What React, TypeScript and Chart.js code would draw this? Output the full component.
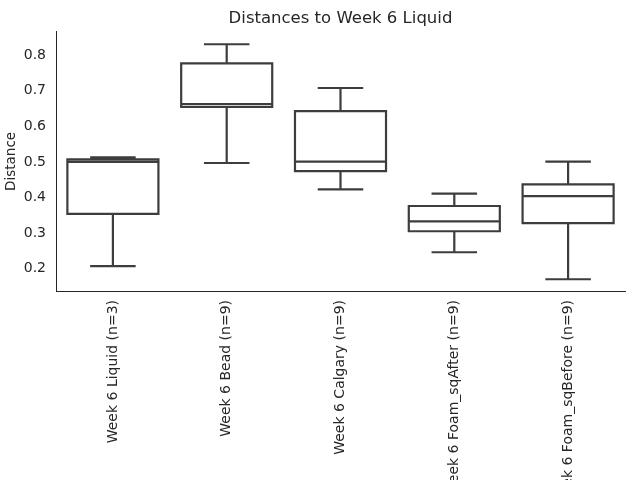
import React, { useEffect, useRef } from "react";
import { Chart, registerables } from "chart.js";

Chart.register(...registerables);

const categories = [
  "Week 6 Liquid (n=3)",
  "Week 6 Bead (n=9)",
  "Week 6 Calgary (n=9)",
  "Week 6 Foam_sqAfter (n=9)",
  "Week 6 Foam_sqBefore (n=9)",
];
const whiskerLow = [0.207, 0.497, 0.423, 0.246, 0.170];
const q1 = [0.354, 0.655, 0.474, 0.305, 0.328];
const median = [0.5, 0.663, 0.501, 0.333, 0.404];
const q3 = [0.507, 0.777, 0.643, 0.376, 0.437];
const whiskerHigh = [0.513, 0.831, 0.708, 0.411, 0.501];
const yTicks = [0.2, 0.3, 0.4, 0.5, 0.6, 0.7, 0.8];

const LINE = "#3d3d3d";
const TEXT = "#262626";
const FONT = "'DejaVu Sans', sans-serif";

const boxPlugin = {
  id: "boxWhiskers",
  afterDatasetsDraw(chart: any) {
    const ctx = chart.ctx;
    const x = chart.scales.x;
    const y = chart.scales.y;
    const meta = chart.getDatasetMeta(0);
    ctx.save();
    ctx.strokeStyle = LINE;
    ctx.lineWidth = 2.2;
    ctx.lineCap = "butt";
    ctx.lineJoin = "miter";
    categories.forEach((_, i) => {
      const el: any = meta.data[i];
      const cx = x.getPixelForValue(i);
      const half = el.width / 2;
      const capHalf = half / 2;
      const yLo = y.getPixelForValue(whiskerLow[i]);
      const yQ1 = y.getPixelForValue(q1[i]);
      const yMed = y.getPixelForValue(median[i]);
      const yQ3 = y.getPixelForValue(q3[i]);
      const yHi = y.getPixelForValue(whiskerHigh[i]);
      ctx.beginPath();
      ctx.rect(cx - half, yQ3, half * 2, yQ1 - yQ3);
      ctx.moveTo(cx, yQ1);
      ctx.lineTo(cx, yLo);
      ctx.moveTo(cx, yQ3);
      ctx.lineTo(cx, yHi);
      ctx.moveTo(cx - capHalf, yLo);
      ctx.lineTo(cx + capHalf, yLo);
      ctx.moveTo(cx - capHalf, yHi);
      ctx.lineTo(cx + capHalf, yHi);
      ctx.moveTo(cx - half, yMed);
      ctx.lineTo(cx + half, yMed);
      ctx.stroke();
    });
    ctx.restore();
  },
};

export default function App() {
  const ref = useRef<HTMLCanvasElement | null>(null);
  useEffect(() => {
    if (!ref.current) return;
    const chart = new Chart(ref.current, {
      type: "bar",
      data: {
        labels: categories,
        datasets: [
          {
            data: categories.map((_, i) => [q1[i], q3[i]]) as any,
            backgroundColor: "#ffffff",
            borderWidth: 0,
            barPercentage: 0.8,
            categoryPercentage: 1,
          },
        ],
      },
      options: {
        responsive: false,
        animation: false,
        layout: { padding: { left: 0, right: 15, top: 0, bottom: 0 } },
        plugins: {
          legend: { display: false },
          tooltip: { enabled: false },
          title: {
            display: true,
            text: "Distances to Week 6 Liquid",
            color: TEXT,
            fullSize: false,
            font: { family: FONT, size: 16.5, weight: "normal" },
            padding: { top: 9, bottom: 3 },
          },
        },
        scales: {
          x: {
            grid: { display: false, drawTicks: false },
            border: { display: true, color: TEXT, width: 1 },
            ticks: {
              color: TEXT,
              font: { family: FONT, size: 14 },
              minRotation: 90,
              maxRotation: 90,
              autoSkip: false,
              padding: 9,
            },
            afterFit(scale: any) {
              scale.height = 189;
            },
          },
          y: {
            min: 0.137,
            max: 0.866,
            grid: { display: false, drawTicks: false },
            border: { display: true, color: TEXT, width: 1 },
            title: {
              display: true,
              text: "Distance",
              color: TEXT,
              font: { family: FONT, size: 13.5 },
              padding: { top: 3, bottom: 0 },
            },
            ticks: {
              color: TEXT,
              font: { family: FONT, size: 14 },
              padding: 10,
              callback: (v: any) => Number(v).toFixed(1),
            },
            afterBuildTicks(scale: any) {
              scale.ticks = yTicks.map((v) => ({ value: v }));
            },
            afterFit(scale: any) {
              scale.width = 56;
            },
          },
        },
      },
      plugins: [boxPlugin],
    });
    return () => chart.destroy();
  }, []);
  return (
    <div style={{ position: "fixed", left: 0, top: 0, width: 640, height: 480, background: "#fff" }}>
      <canvas ref={ref} width={640} height={480} />
    </div>
  );
}
